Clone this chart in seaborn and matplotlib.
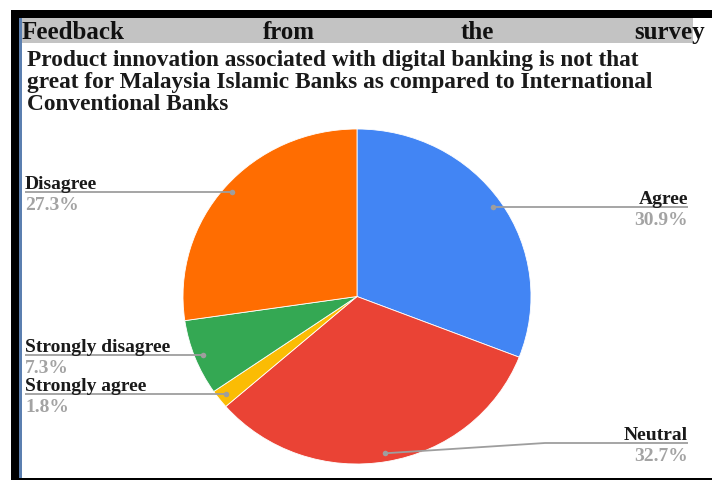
import matplotlib
matplotlib.use("Agg")
import matplotlib.pyplot as plt
import seaborn as sns
import numpy as np
from matplotlib.patches import Rectangle

# Survey responses, clockwise from 12 o'clock
categories = ["Agree", "Neutral", "Strongly agree", "Strongly disagree", "Disagree"]
shares = [30.9, 32.7, 1.8, 7.3, 27.3]
slice_colors = ["#4285F4", "#EA4335", "#FBBC04", "#34A853", "#FF6D01"]

header_words = ["Feedback", "from", "the", "survey"]
title_lines = [
    "Product innovation associated with digital banking is not that",
    "great for Malaysia Islamic Banks as compared to International",
    "Conventional Banks",
]

sns.set_theme(style="white")
plt.rcParams["font.family"] = ["Liberation Serif", "DejaVu Serif"]

W, H = 712, 481
fig = plt.figure(figsize=(W / 100, H / 100), dpi=100)
fig.patch.set_facecolor("white")

# Pie in its own axes (box slightly wider than tall)
pie_left, pie_top, pie_w, pie_h = 183, 130, 348, 335
ax_pie = fig.add_axes([pie_left / W, 1 - (pie_top + pie_h) / H, pie_w / W, pie_h / H])
wedges, _ = ax_pie.pie(
    shares,
    colors=sns.color_palette(slice_colors),
    startangle=90,
    counterclock=False,
    wedgeprops=dict(edgecolor="white", linewidth=0.6),
)
ax_pie.set_aspect("auto")
ax_pie.set_xlim(-1, 1)
ax_pie.set_ylim(-1, 1)
ax_pie.axis("off")

# Overlay in pixel coordinates for frame, titles and callouts
ov = fig.add_axes([0, 0, 1, 1], facecolor="none")
ov.set_xlim(0, W)
ov.set_ylim(H, 0)
ov.axis("off")

# Frame and header band
ov.add_patch(Rectangle((11, 11), W - 11, 8, color="black", lw=0))
ov.add_patch(Rectangle((11, 11), 8, H - 11, color="black", lw=0))
ov.add_patch(Rectangle((19, 19), 3, H - 19, color="#5b7fb0", lw=0))
ov.add_patch(Rectangle((22, 19), 671, 25, color="#c3c3c3", lw=0))
ov.add_patch(Rectangle((11, 478.5), W - 11, 2.5, color="black", lw=0))

# Justified header line
header_x = [(22, "left"), (263, "left"), (461, "left"), (705, "right")]
for word, (x, ha) in zip(header_words, header_x):
    ov.text(x, 39, word, ha=ha, va="baseline", fontsize=18, fontweight="bold", color="#111111")

for line, y in zip(title_lines, [66, 88, 110]):
    ov.text(27, y, line, ha="left", va="baseline", fontsize=16.8, fontweight="bold", color="#1a1a1a")

# Callout anchor points on each slice
to_px = ax_pie.transData + ov.transData.inverted()
anchors = []
for w in wedges:
    mid = np.deg2rad((w.theta1 + w.theta2) / 2)
    anchors.append(to_px.transform((0.95 * np.cos(mid), 0.95 * np.sin(mid))))

callout_style = {
    "Agree": ("right", None),
    "Neutral": ("right", 444),
    "Strongly agree": ("left", None),
    "Strongly disagree": ("left", None),
    "Disagree": ("left", None),
}
line_color = "#9e9e9e"
x_left, x_right, elbow_x = 25, 688, 545

for cat, val, (ax_, ay_) in zip(categories, shares, anchors):
    side, elbow_y = callout_style[cat]
    line_y = ay_ if elbow_y is None else elbow_y
    if side == "right":
        xs = [ax_, x_right] if elbow_y is None else [ax_, elbow_x, x_right]
        ys = [ay_, ay_] if elbow_y is None else [ay_, line_y, line_y]
        tx, ha = x_right, "right"
    else:
        xs = [x_left, ax_]
        ys = [ay_, ay_]
        tx, ha = x_left, "left"
    ov.plot(xs, ys, color=line_color, lw=1.3, solid_capstyle="butt")
    ov.plot([ax_], [ay_], "o", ms=4, color=line_color, mec="none")
    ov.text(tx, line_y - 4, cat, ha=ha, va="baseline", fontsize=14,
            fontweight="bold", color="#1a1a1a")
    ov.text(tx, line_y + 4, f"{val:.1f}%", ha=ha, va="top", fontsize=14,
            fontweight="bold", color="#a3a3a3")

fig.savefig("out.png", dpi=100)
